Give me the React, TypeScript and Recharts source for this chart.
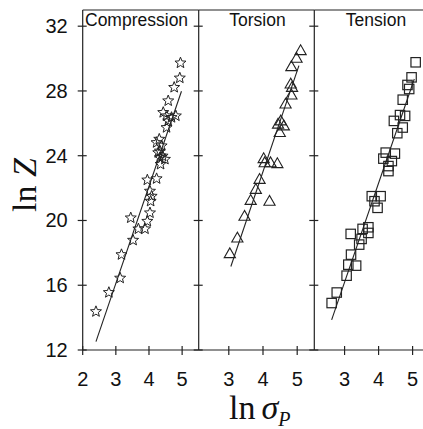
import { ReferenceLine, Scatter, ScatterChart, XAxis, YAxis } from 'recharts';

// ln(sigma_P), ln(Z)
const compressionX = [2.40, 2.79, 3.13, 3.17, 3.52, 3.45, 3.68, 3.88, 3.95, 4.03, 4.05, 4.08, 4.03, 3.95, 4.23, 4.35, 4.48, 4.41, 4.28, 4.33, 4.33, 4.38, 4.23, 4.31, 4.53, 4.58, 4.43, 4.53, 4.68, 4.81, 4.58, 4.76, 4.93, 4.95];
const compressionY = [14.37, 15.55, 16.44, 17.89, 18.78, 20.16, 19.48, 19.48, 19.95, 20.47, 21.19, 21.50, 21.81, 22.50, 22.58, 23.47, 23.78, 23.98, 24.19, 23.88, 24.29, 24.61, 24.81, 25.02, 25.74, 26.15, 26.67, 26.46, 26.36, 26.46, 27.39, 28.22, 28.80, 29.73];

const torsionX = [3.03, 3.25, 3.46, 3.64, 3.79, 3.90, 4.19, 4.02, 4.05, 4.22, 4.42, 4.49, 4.44, 4.52, 4.61, 4.66, 4.83, 4.85, 4.81, 4.83, 4.98, 5.10];
const torsionY = [17.95, 18.92, 20.26, 21.24, 21.92, 22.54, 21.19, 23.82, 23.57, 23.57, 23.51, 25.43, 25.95, 26.15, 25.84, 27.19, 27.75, 28.22, 28.43, 29.50, 30.02, 30.49];

const tensionX = [2.62, 2.77, 3.06, 3.11, 3.34, 3.19, 3.18, 3.43, 3.50, 3.53, 3.70, 3.70, 3.80, 3.88, 4.06, 3.97, 4.29, 4.29, 4.14, 4.39, 4.21, 4.48, 4.55, 4.71, 4.45, 4.63, 4.78, 4.71, 4.85, 4.90, 4.97, 5.09];
const tensionY = [14.90, 15.55, 16.59, 17.27, 17.21, 17.89, 19.17, 18.51, 18.86, 19.48, 19.58, 19.23, 21.50, 21.19, 21.50, 20.78, 23.05, 23.36, 23.82, 23.67, 24.19, 24.13, 25.39, 25.74, 26.15, 26.51, 26.46, 27.46, 28.37, 28.12, 28.84, 29.77];

// fitted line end points
const compressionFitX = [2.40, 4.98];
const compressionFitY = [12.52, 27.98];
const torsionFitX = [3.06, 5.05];
const torsionFitY = [17.16, 29.56];
const tensionFitX = [2.62, 5.05];
const tensionFitY = [13.86, 28.74];

const yTicks = [12, 16, 20, 24, 28, 32];
const firstXTicks = [2, 3, 4, 5];
const otherXTicks = [3, 4, 5];

const INK = '#222';
const SANS = '"Liberation Sans", Arial, sans-serif';
const SERIF = '"Liberation Serif", "Times New Roman", serif';

const zip = (xs: number[], ys: number[]) => xs.map((x, i) => ({ x, y: ys[i] }));

const Star = ({ cx, cy }: any) => {
  const pts: string[] = [];
  for (let i = 0; i < 10; i++) {
    const r = i % 2 === 0 ? 5.8 : 2.5;
    const a = -Math.PI / 2 + (i * Math.PI) / 5;
    pts.push(`${cx + r * Math.cos(a)},${cy + r * Math.sin(a)}`);
  }
  return <polygon points={pts.join(' ')} fill="none" stroke={INK} strokeWidth={1} />;
};

const Triangle = ({ cx, cy }: any) => (
  <polygon points={`${cx},${cy - 5.8} ${cx - 5.6},${cy + 4} ${cx + 5.6},${cy + 4}`} fill="none" stroke={INK} strokeWidth={1.1} />
);

const Square = ({ cx, cy }: any) => (
  <rect x={cx - 4.7} y={cy - 4.7} width={9.4} height={9.4} fill="none" stroke={INK} strokeWidth={1.2} />
);

const NoDot = () => <g />;

const makeYTick = (showLabel: boolean) => (props: any) => {
  const { x, y, payload } = props;
  return (
    <g>
      <line x1={x - 5} x2={x + 4} y1={y} y2={y} stroke={INK} strokeWidth={1.2} />
      {showLabel ? (
        <text x={x - 15} y={y} textAnchor="end" dominantBaseline="central" fontSize={20} fontFamily={SANS} fill="#111">
          {payload.value}
        </text>
      ) : null}
    </g>
  );
};

const XTick = (props: any) => {
  const { x, y, payload } = props;
  return (
    <g>
      <line x1={x} x2={x} y1={y - 4} y2={y + 5} stroke={INK} strokeWidth={1.2} />
      <text x={x} y={y + 29} textAnchor="middle" dominantBaseline="central" fontSize={20} fontFamily={SANS} fill="#111">
        {payload.value}
      </text>
    </g>
  );
};

type PanelProps = {
  left: number;
  width: number;
  yAxisWidth: number;
  right: number;
  domain: [number, number];
  xTicks: number[];
  points: { x: number; y: number }[];
  fit: { x: number; y: number }[];
  shape: any;
  showYLabels: boolean;
};

function Panel({ left, width, yAxisWidth, right, domain, xTicks, points, fit, shape, showYLabels }: PanelProps) {
  return (
    <div style={{ position: 'absolute', left, top: 0 }}>
      <ScatterChart width={width} height={429} margin={{ top: 10, right, bottom: 0, left: 0 }} style={{ overflow: 'visible' }}>
        <XAxis
          type="number"
          dataKey="x"
          domain={domain}
          ticks={xTicks}
          height={79}
          tickSize={0}
          tickMargin={0}
          tickLine={false}
          tick={XTick}
          axisLine={{ stroke: INK, strokeWidth: 1.2 }}
          allowDataOverflow
        />
        <YAxis
          type="number"
          dataKey="y"
          domain={[12, 33]}
          ticks={yTicks}
          width={yAxisWidth}
          tickSize={0}
          tickMargin={0}
          tickLine={false}
          tick={makeYTick(showYLabels)}
          axisLine={{ stroke: INK, strokeWidth: 1.2 }}
          allowDataOverflow
        />
        <ReferenceLine y={33} stroke={INK} strokeWidth={1.2} />
        <Scatter data={fit} line={{ stroke: INK, strokeWidth: 1.1 }} shape={NoDot} isAnimationActive={false} />
        <Scatter data={points} shape={shape} isAnimationActive={false} />
      </ScatterChart>
    </div>
  );
}

export default function App() {
  return (
    <div
      style={{
        position: 'absolute',
        left: 0,
        top: 0,
        width: 423,
        height: 429,
        overflow: 'hidden',
        background: '#fff',
        fontFamily: SANS,
      }}
    >
      <Panel
        left={0}
        width={200}
        yAxisWidth={82.7}
        right={1.3}
        domain={[2, 5.5]}
        xTicks={firstXTicks}
        points={zip(compressionX, compressionY)}
        fit={zip(compressionFitX, compressionFitY)}
        shape={Star}
        showYLabels
      />
      <Panel
        left={190}
        width={125}
        yAxisWidth={8.7}
        right={0.7}
        domain={[2.12, 5.5]}
        xTicks={otherXTicks}
        points={zip(torsionX, torsionY)}
        fit={zip(torsionFitX, torsionFitY)}
        shape={Triangle}
        showYLabels={false}
      />
      <Panel
        left={306}
        width={135}
        yAxisWidth={8.3}
        right={11.4}
        domain={[2.11, 5.5]}
        xTicks={otherXTicks}
        points={zip(tensionX, tensionY)}
        fit={zip(tensionFitX, tensionFitY)}
        shape={Square}
        showYLabels={false}
      />
      <svg width={423} height={429} style={{ position: 'absolute', left: 0, top: 0, pointerEvents: 'none' }}>
        <text x={85} y={20} dominantBaseline="central" fontSize={17.5} fontFamily={SANS} fill="#111">
          Compression
        </text>
        <text x={257.5} y={20} textAnchor="middle" dominantBaseline="central" fontSize={17.5} fontFamily={SANS} fill="#111">
          Torsion
        </text>
        <text x={376} y={20} textAnchor="middle" dominantBaseline="central" fontSize={17.5} fontFamily={SANS} fill="#111">
          Tension
        </text>
        <text
          x={24}
          y={185}
          transform="rotate(-90 24 185)"
          textAnchor="middle"
          dominantBaseline="central"
          fontSize={34}
          fontFamily={SERIF}
          fill="#111"
        >
          ln <tspan fontStyle="italic">Z</tspan>
        </text>
        <text x={229} y={419} fontSize={34} fontFamily={SERIF} fill="#111">
          ln
          <tspan dx={6} fontStyle="italic">σ</tspan>
          <tspan dy={7} fontSize={20} fontStyle="italic">P</tspan>
        </text>
      </svg>
    </div>
  );
}
